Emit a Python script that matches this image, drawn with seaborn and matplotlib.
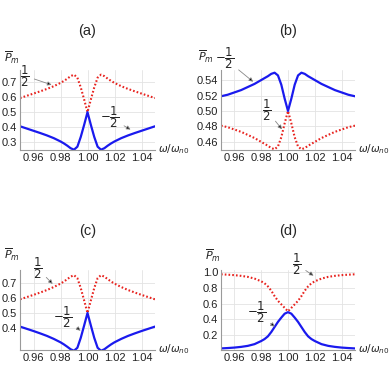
import matplotlib
matplotlib.use("Agg")
import matplotlib.pyplot as plt
import seaborn as sns
from matplotlib.ticker import MultipleLocator, FormatStrFormatter

# frequency axis (omega / omega_n0)
w = [0.95, 0.955, 0.96, 0.965, 0.97, 0.975, 0.98, 0.9825, 0.985, 0.9875,
     0.99, 0.9925, 0.995, 0.9975, 1.0, 1.0025, 1.005, 1.0075, 1.01, 1.0125,
     1.015, 1.0175, 1.02, 1.025, 1.03, 1.035, 1.04, 1.045, 1.05]

# (a)
a_half = [0.594, 0.609, 0.624, 0.639, 0.655, 0.673, 0.695, 0.708, 0.723, 0.740,
          0.750, 0.730, 0.665, 0.585, 0.500, 0.585, 0.665, 0.730, 0.750, 0.740,
          0.723, 0.708, 0.695, 0.673, 0.655, 0.639, 0.624, 0.609, 0.594]
a_mhalf = [0.406, 0.391, 0.376, 0.361, 0.345, 0.327, 0.305, 0.292, 0.277, 0.260,
           0.250, 0.270, 0.335, 0.415, 0.500, 0.415, 0.335, 0.270, 0.250, 0.260,
           0.277, 0.292, 0.305, 0.327, 0.345, 0.361, 0.376, 0.391, 0.406]

# (b)
b_half = [0.481, 0.479, 0.476, 0.473, 0.469, 0.465, 0.460, 0.4575, 0.455, 0.452,
          0.4505, 0.454, 0.466, 0.484, 0.500, 0.484, 0.466, 0.454, 0.4505, 0.452,
          0.455, 0.4575, 0.460, 0.465, 0.469, 0.473, 0.476, 0.479, 0.481]
b_mhalf = [0.519, 0.521, 0.524, 0.527, 0.531, 0.535, 0.540, 0.5425, 0.545, 0.548,
           0.5495, 0.546, 0.534, 0.516, 0.500, 0.516, 0.534, 0.546, 0.5495, 0.548,
           0.545, 0.5425, 0.540, 0.535, 0.531, 0.527, 0.524, 0.521, 0.519]

# (c)
c_half = [0.592, 0.607, 0.622, 0.638, 0.655, 0.675, 0.698, 0.712, 0.728, 0.745,
          0.755, 0.735, 0.668, 0.585, 0.500, 0.585, 0.668, 0.735, 0.755, 0.745,
          0.728, 0.712, 0.698, 0.675, 0.655, 0.638, 0.622, 0.607, 0.592]
c_mhalf = [0.408, 0.393, 0.378, 0.362, 0.345, 0.325, 0.302, 0.288, 0.272, 0.255,
           0.245, 0.265, 0.332, 0.415, 0.500, 0.415, 0.332, 0.265, 0.245, 0.255,
           0.272, 0.288, 0.302, 0.325, 0.345, 0.362, 0.378, 0.393, 0.408]

# (d)
d_half = [0.975, 0.970, 0.964, 0.955, 0.942, 0.920, 0.885, 0.860, 0.820, 0.765,
          0.695, 0.635, 0.590, 0.545, 0.500, 0.545, 0.590, 0.635, 0.695, 0.765,
          0.820, 0.860, 0.885, 0.920, 0.942, 0.955, 0.964, 0.970, 0.975]
d_mhalf = [0.025, 0.030, 0.036, 0.045, 0.058, 0.080, 0.120, 0.145, 0.180, 0.235,
           0.300, 0.365, 0.420, 0.470, 0.490, 0.470, 0.420, 0.365, 0.300, 0.235,
           0.180, 0.145, 0.120, 0.080, 0.058, 0.045, 0.036, 0.030, 0.025]

xticks = [0.96, 0.98, 1.00, 1.02, 1.04]
titles = ["(a)", "(b)", "(c)", "(d)"]

BLUE = "#1a1aee"
RED = "#e8231f"
HALF = r"$\dfrac{1}{2}$"
MHALF = r"$-\dfrac{1}{2}$"

sns.set_style("white")
plt.rcParams["font.family"] = ["Liberation Sans", "DejaVu Sans"]
plt.rcParams["mathtext.fontset"] = "dejavusans"

fig = plt.figure(figsize=(3.89, 3.89), dpi=100)

W = 389.0
boxes = [(20, 150, 155, 70), (221, 150, 355, 70), (20, 350, 155, 270), (221, 350, 355, 270)]
axs = []
for (x0, y1, x1, y0) in boxes:
    axs.append(fig.add_axes([x0 / W, 1 - y1 / W, (x1 - x0) / W, (y1 - y0) / W]))

series = [(a_half, a_mhalf), (b_half, b_mhalf), (c_half, c_mhalf), (d_half, d_mhalf)]
ylims = [(0.248, 0.781), (0.4495, 0.553), (0.25, 0.79), (0.005, 1.03)]
yticks = [[0.3, 0.4, 0.5, 0.6, 0.7], [0.46, 0.48, 0.50, 0.52, 0.54],
          [0.4, 0.5, 0.6, 0.7], [0.2, 0.4, 0.6, 0.8, 1.0]]
yminor = [0.02, 0.005, 0.02, 0.05]
yfmt = ["%.1f", "%.2f", "%.1f", "%.1f"]
ylab_pos = [(0.0, 1.15), (-0.055, 1.16), (0.0, 1.19), (0.0, 1.18)]

for i, ax in enumerate(axs):
    half, mhalf = series[i]
    sns.lineplot(x=w, y=half, ax=ax, color=RED, linestyle=(0, (0.8, 1.0)), lw=1.5)
    sns.lineplot(x=w, y=mhalf, ax=ax, color=BLUE, lw=1.6)
    ax.set_xlim(0.95, 1.05)
    ax.set_ylim(*ylims[i])
    ax.set_xticks(xticks)
    ax.set_yticks(yticks[i])
    ax.xaxis.set_minor_locator(MultipleLocator(0.005))
    ax.yaxis.set_minor_locator(MultipleLocator(yminor[i]))
    ax.xaxis.set_major_formatter(FormatStrFormatter("%.2f"))
    ax.yaxis.set_major_formatter(FormatStrFormatter(yfmt[i]))
    ax.grid(True, which="major", color="#e3e3e3", lw=0.6)
    ax.set_axisbelow(True)
    for s in ["top", "right"]:
        ax.spines[s].set_visible(False)
    for s in ["left", "bottom"]:
        ax.spines[s].set_color("#9a9a9a")
        ax.spines[s].set_linewidth(0.8)
    ax.tick_params(which="major", direction="in", length=3, width=0.6, color="#9a9a9a",
                   labelsize=8, labelcolor="#222222", pad=2)
    ax.tick_params(which="minor", direction="in", length=1.6, width=0.5, color="#b0b0b0")
    ax.set_xlabel("")
    ax.set_ylabel("")
    ax.annotate(r"$\omega/\omega_{n0}$", xy=(1, 0), xycoords="axes fraction",
                xytext=(2, 1), textcoords="offset points", ha="left", va="center",
                fontsize=7.5)
    ax.text(ylab_pos[i][0], ylab_pos[i][1], r"$\overline{P}_m$", transform=ax.transAxes,
            ha="right", va="center", fontsize=8)
    pos = ax.get_position()
    fig.text(pos.x0 + pos.width / 2, pos.y1 + 0.1, titles[i], ha="center", va="center",
             fontsize=10.5)

arrow = dict(arrowstyle="-|>", ec="#888888", fc="black", lw=0.6, mutation_scale=6,
             shrinkA=1, shrinkB=0)
labels = [
    (0, HALF, (0.9537, 0.742), (0.9734, 0.682), "center"),
    (0, MHALF, (1.0166, 0.4636), (1.0319, 0.384), "center"),
    (1, MHALF, (0.9455, 0.568), (0.974, 0.5378), "left"),
    (1, HALF, (0.984, 0.5011), (0.9955, 0.4763), "center"),
    (2, HALF, (0.9628, 0.802), (0.9742, 0.696), "center"),
    (2, MHALF, (0.9818, 0.475), (0.9949, 0.380), "center"),
    (3, HALF, (1.0064, 1.101), (1.0191, 0.957), "center"),
    (3, MHALF, (0.9765, 0.486), (0.9902, 0.304), "center"),
]
for i, txt, xytext, xy, ha in labels:
    axs[i].annotate(txt, xy=xy, xytext=xytext, ha=ha, va="center", fontsize=8.5,
                    arrowprops=arrow, annotation_clip=False)

fig.savefig("out.png", dpi=100)
